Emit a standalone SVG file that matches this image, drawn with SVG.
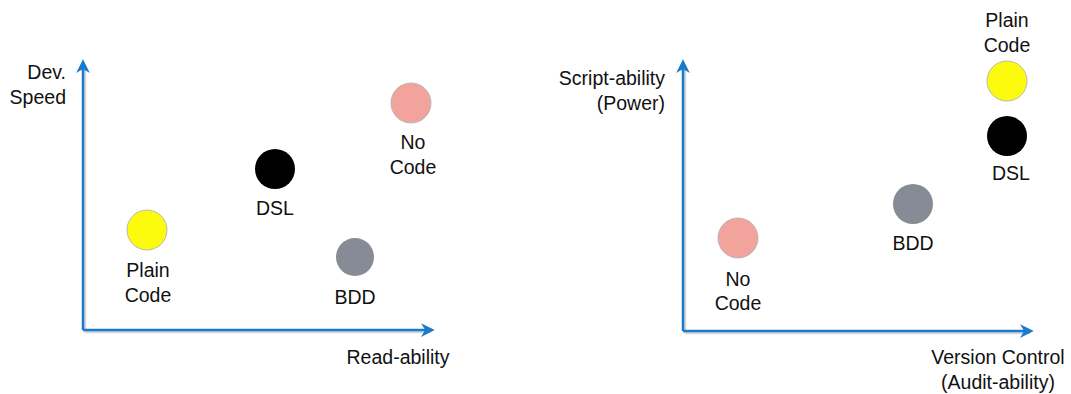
<svg xmlns="http://www.w3.org/2000/svg" width="1071" height="394" viewBox="0 0 1071 394">
<style>
text{font-family:"Liberation Sans",Arial,sans-serif;font-size:19.5px;fill:#111;}
.m{text-anchor:middle}
.e{text-anchor:end}
.ax{stroke:#1a7acb;stroke-width:2.5;fill:none}
.sh{stroke:#bbb;stroke-width:2.5;fill:none;opacity:0.6}
.yel{fill:#fdfb0d;stroke:#b8b8b8;stroke-width:1}
.blk{fill:#000}
.gry{fill:#878b95}
.pnk{fill:#f2a39b;stroke:#b8b8b8;stroke-width:1}
</style>
<defs>
<marker id="ah" viewBox="0 0 10 10" refX="8" refY="5" markerWidth="5.5" markerHeight="5.5" orient="auto" markerUnits="strokeWidth">
<path d="M0,0 L10,5 L0,10 L3,5 Z" fill="#1a7acb"/>
</marker>
</defs>
<rect width="1071" height="394" fill="#fff"/>
<g id="connectors">
<path class="sh" d="M85,332 H430 M85,332 V66"/>
<path class="ax" d="M83,330 V62" marker-end="url(#ah)"/>
<path class="ax" d="M83,330 H432" marker-end="url(#ah)"/>
<path class="sh" d="M685,333 H1030 M685,333 V66"/>
<path class="ax" d="M683,331 V62" marker-end="url(#ah)"/>
<path class="ax" d="M683,331 H1031" marker-end="url(#ah)"/>
</g>
<g id="axis-labels">
<text class="e" x="66" y="79">Dev.</text>
<text class="e" x="66" y="104">Speed</text>
<text class="m" x="398" y="364">Read-ability</text>
<text class="e" x="665" y="85">Script-ability</text>
<text class="e" x="665" y="110">(Power)</text>
<text class="m" x="998" y="364">Version Control</text>
<text class="m" x="998" y="389">(Audit-ability)</text>
</g>
<g id="l-plain"><circle class="yel" cx="147" cy="230" r="20"/><text class="m" x="148" y="277">Plain</text><text class="m" x="148" y="302">Code</text></g>
<g id="l-dsl"><circle class="blk" cx="275" cy="169" r="20"/><text class="m" x="275" y="215">DSL</text></g>
<g id="l-bdd"><circle class="gry" cx="355" cy="257" r="19"/><text class="m" x="355" y="304">BDD</text></g>
<g id="l-nocode"><circle class="pnk" cx="411" cy="103" r="20"/><text class="m" x="413" y="149">No</text><text class="m" x="413" y="174">Code</text></g>
<g id="r-plain"><circle class="yel" cx="1007" cy="81" r="20"/><text class="m" x="1007" y="27">Plain</text><text class="m" x="1007" y="52">Code</text></g>
<g id="r-dsl"><circle class="blk" cx="1007" cy="136" r="20"/><text class="m" x="1011" y="180">DSL</text></g>
<g id="r-bdd"><circle class="gry" cx="913" cy="204" r="20"/><text class="m" x="913" y="250">BDD</text></g>
<g id="r-nocode"><circle class="pnk" cx="738" cy="238" r="20"/><text class="m" x="738" y="286">No</text><text class="m" x="738" y="310">Code</text></g>
</svg>
